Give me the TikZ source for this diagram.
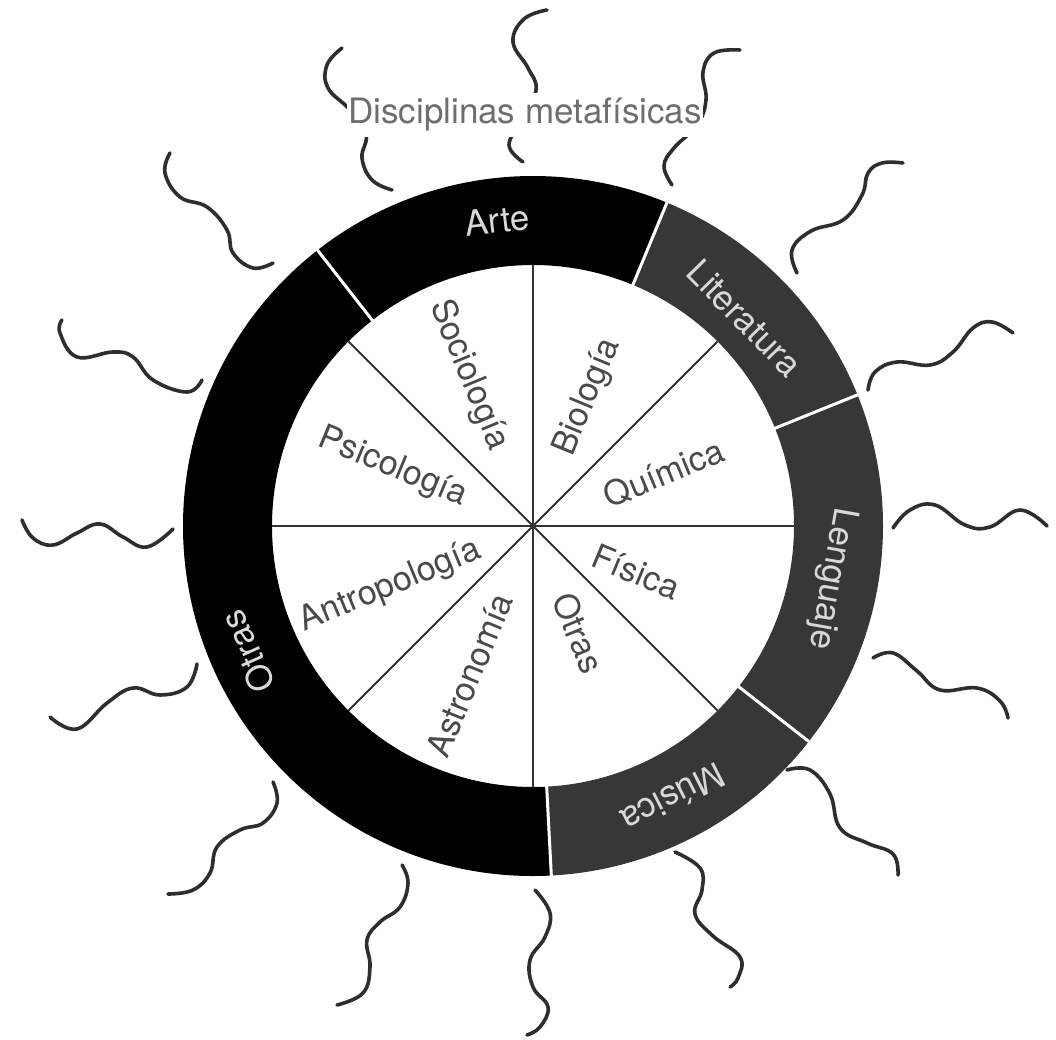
\documentclass[tikz,border=0pt]{standalone}
\usepackage{fontspec}
\setmainfont{TeX Gyre Heros}
\definecolor{ringgray}{HTML}{373737}
\definecolor{sqcol}{HTML}{2E2E2E}
\definecolor{inkin}{HTML}{4A4A4A}
\definecolor{ringtxt}{HTML}{D8D8D8}
\definecolor{titcol}{HTML}{6E6E6E}
\definecolor{radcol}{HTML}{333333}
\begin{document}
\begin{tikzpicture}[x=1pt,y=1pt,
  squig/.style={draw=sqcol, line width=3.6pt, line cap=round},
  inlab/.style={text=inkin, font=\fontsize{34}{40}\selectfont, inner sep=0pt},
  ringlab/.style={text=ringtxt, font=\fontsize{35}{42}\selectfont, inner sep=0pt},
  sepline/.style={draw=white, line width=3pt},
  radial/.style={draw=radcol, line width=1.8pt}]
\useasboundingbox (0,0) rectangle (1056,1039);
\fill[white] (0,0) rectangle (1056,1039);

% wavy lines, in image coordinates (y downwards)
\begin{scope}[shift={(0,1039)}, y=-1pt]
  \draw[squig] plot[smooth, tension=0.7] coordinates {(392,190) (372,180) (362,158) (366,134) (350,110) (328,88) (327,65) (342,48)};
  \draw[squig] plot[smooth, tension=0.7] coordinates {(523,162) (509,145) (522,120) (536,90) (528,68) (513,42) (524,19) (547,10)};
  \draw[squig] plot[smooth, tension=0.7] coordinates {(672,185) (664,166) (674,148) (697,125) (706,100) (703,72) (714,53) (740,50)};
  \draw[squig] plot[smooth, tension=0.7] coordinates {(797,273) (792,250) (811,231) (843,220) (862,195) (868,173) (882,163) (903,163)};
  \draw[squig] plot[smooth, tension=0.7] coordinates {(868,390) (875,372) (897,362) (930,365) (953,352) (973,328) (992,322) (1013,333)};
  \draw[squig] plot[smooth, tension=0.7] coordinates {(893,528) (910,510) (935,505) (965,525) (990,527) (1020,510) (1047,526)};
  \draw[squig] plot[smooth, tension=0.7] coordinates {(873,658) (893,653) (917,671) (940,690) (977,688) (1000,701) (1008,718)};
  \draw[squig] plot[smooth, tension=0.7] coordinates {(787,770) (810,770) (830,794) (840,828) (867,843) (893,854) (898,875)};
  \draw[squig] plot[smooth, tension=0.7] coordinates {(675,852) (700,868) (702,890) (695,914) (713,936) (740,957) (738,978) (730,987)};
  \draw[squig] plot[smooth, tension=0.7] coordinates {(535,890) (550,913) (545,937) (530,960) (533,987) (548,1007) (540,1027) (527,1035)};
  \draw[squig] plot[smooth, tension=0.7] coordinates {(402,865) (408,883) (400,907) (380,922) (367,940) (370,967) (363,993) (337,1005)};
  \draw[squig] plot[smooth, tension=0.7] coordinates {(273,782) (277,803) (263,823) (240,830) (217,847) (210,873) (193,890) (168,894)};
  \draw[squig] plot[smooth, tension=0.7] coordinates {(173,529) (147,547) (123,537) (100,524) (77,533) (53,545) (33,538) (22,520)};
  \draw[squig] plot[smooth, tension=0.7] coordinates {(197,664) (187,687) (160,695) (133,688) (107,703) (77,729) (50,717)};
  \draw[squig] plot[smooth, tension=0.7] coordinates {(273,263) (253,268) (233,253) (227,230) (207,207) (180,197) (165,173) (170,153)};
  \draw[squig] plot[smooth, tension=0.7] coordinates {(202,380) (187,392) (153,380) (133,357) (113,352) (77,357) (60,333) (62,320)};
\end{scope}

\node[font=\fontsize{35}{42}\selectfont, text=titcol, fill=white, inner xsep=1pt, inner ysep=5pt] (title) at (525,924) {Disciplinas metafísicas};

% the wheel
\begin{scope}[shift={(533,513)}]
  \coordinate (c) at (0,0);
  \fill[black] (67.5:261pt) arc[start angle=67.5, end angle=128, radius=261pt] -- (128:350pt) arc[start angle=128, end angle=67.5, radius=350pt] -- cycle;
  \fill[ringgray] (22:261pt) arc[start angle=22, end angle=67.5, radius=261pt] -- (67.5:350pt) arc[start angle=67.5, end angle=22, radius=350pt] -- cycle;
  \fill[ringgray] (-38:261pt) arc[start angle=-38, end angle=22, radius=261pt] -- (22:350pt) arc[start angle=22, end angle=-38, radius=350pt] -- cycle;
  \fill[ringgray] (-87:261pt) arc[start angle=-87, end angle=-38, radius=261pt] -- (-38:350pt) arc[start angle=-38, end angle=-87, radius=350pt] -- cycle;
  \fill[black] (128:261pt) arc[start angle=128, end angle=273, radius=261pt] -- (273:350pt) arc[start angle=273, end angle=128, radius=350pt] -- cycle;
  \foreach \a in {128,67.5,22,-38,-87} \draw[sepline] (\a:258pt) -- (\a:353pt);
  \foreach \a in {0,45,...,315} \draw[radial] (c) -- (\a:261pt);

  \node[inlab, rotate=67.5]  (bio) at (67:140pt)   {Biología};
  \node[inlab, rotate=-67.5] (soc) at (113:164pt)  {Sociología};
  \node[inlab, rotate=-22.5] (psi) at (157.5:152pt) {Psicología};
  \node[inlab, rotate=22.5]  (ant) at (203:155pt)  {Antropología};
  \node[inlab, rotate=67.5]  (ast) at (247:162pt)  {Astronomía};
  \node[inlab, rotate=-67.5] (otri) at (293:116pt) {Otras};
  \node[inlab, rotate=-22.5] (fis) at (336:113pt)  {Física};
  \node[inlab, rotate=22.5]  (qui) at (22:141pt)   {Química};

  \node[ringlab, rotate=6.7]   (arte) at (96.7:308pt)  {Arte};
  \node[ringlab, rotate=-45.5] (lit)  at (44.5:297pt)  {Literatura};
  \node[ringlab, rotate=-100]  (len)  at (-10:303pt)   {Lenguaje};
  \node[ringlab, rotate=-153]  (mus)  at (-62.8:306pt) {Música};
  \node[ringlab, rotate=114]   (otro) at (203.8:312pt) {Otras};
\end{scope}
\end{tikzpicture}
\end{document}
